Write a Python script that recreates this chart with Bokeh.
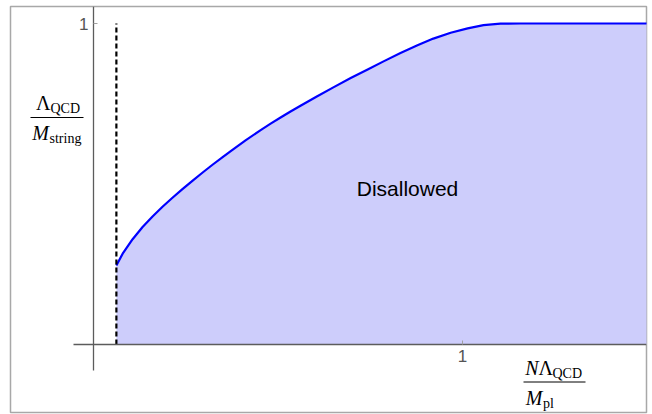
from bokeh.plotting import figure
from bokeh.models import FixedTicker, Range1d
from bokeh.core.properties import value
from bokeh.embed import file_html
from bokeh.resources import INLINE

# ---- data ----
boundary_x = [0.062]            # dashed vertical boundary
curve_x = [0.062, 0.079, 0.106, 0.133, 0.160, 0.187, 0.214, 0.241, 0.268, 0.295,
           0.3225, 0.350, 0.371, 0.412, 0.453, 0.480, 0.507, 0.534, 0.561, 0.604,
           0.650, 0.697, 0.743, 0.786, 0.832, 0.878, 0.921, 0.968, 1.014, 1.057,
           1.103, 1.157, 1.500]
curve_y = [0.246, 0.283, 0.328, 0.366, 0.399, 0.429, 0.457, 0.484, 0.510, 0.535,
           0.560, 0.584, 0.602, 0.636, 0.668, 0.688, 0.707, 0.726, 0.744, 0.772,
           0.801, 0.830, 0.857, 0.882, 0.908, 0.932, 0.953, 0.971, 0.985, 0.995,
           0.9995, 1.000, 1.000]
x_ticks = [1]
y_ticks = [1]
region_label = "Disallowed"

# ---- layout helpers (page pixels -> data) ----
X0, XS = 93.0, 369.0     # page x of origin, px per unit
Y0, YS = 344.0, 321.0    # page y of origin, px per unit
def dx(px):
    return (px - X0) / XS
def dy(py):
    return (Y0 - py) / YS
def base(py, size):
    # alphabetic baseline correction for text glyphs
    return dy(py - 0.38 * size)

p = figure(width=648, height=414, output_backend="svg", toolbar_location=None,
           min_border_left=10, min_border_right=2, min_border_top=6, min_border_bottom=2,
           x_range=Range1d(dx(10), dx(646)), y_range=Range1d(dy(412), dy(6)))
p.grid.visible = False
p.outline_line_color = "#a8a8a8"
p.outline_line_width = 1.5
p.background_fill_color = "white"
p.border_fill_color = "white"

# filled region and curve
p.varea(x=curve_x, y1=[0] * len(curve_x), y2=curve_y, fill_color="#cdcdfb")
p.line(curve_x, curve_y, line_color="#0000ff", line_width=2.2, line_join="round")
p.segment(x0=boundary_x, y0=[0], x1=boundary_x, y1=[1], line_color="black",
          line_width=2.2, line_dash="5 3")

# axes crossing at the origin
for ax, b, ticks in ((p.xaxis, (dx(73), dx(646)), x_ticks), (p.yaxis, (dy(370), dy(6)), y_ticks)):
    ax.fixed_location = 0
    ax.bounds = b
    ax.ticker = FixedTicker(ticks=ticks)
    ax.axis_line_color = "#5c5c5c"
    ax.axis_line_width = 1.3
    ax.major_tick_in = 4
    ax.major_tick_out = 0
    ax.major_tick_line_color = "#a0a0a0"
    ax.minor_tick_line_color = None
    ax.major_label_text_font = "Liberation Sans"
    ax.major_label_text_font_size = "17px"
    ax.major_label_text_color = "#555555"
p.xaxis.major_label_standoff = 5
p.yaxis.major_label_standoff = 5

serif = value("Liberation Serif")
sans = value("Liberation Sans")
BIG, SUB = 20, 14

def txt(px, py, s, size, align="left", style="normal", font=serif):
    p.text(x=[dx(px)], y=[base(py, size)], text=[s], text_font=font,
           text_font_size=f"{size}px", text_font_style=style, text_align=align,
           text_baseline="alphabetic", text_color="black")

# y-axis label: Λ_QCD / M_string
txt(50, 110, "Λ", BIG, align="right")
txt(50, 113, "QCD", SUB)
p.segment(x0=[dx(30)], y0=[dy(117)], x1=[dx(83)], y1=[dy(117)], line_color="black", line_width=1)
txt(48.5, 140, "M", BIG, align="right", style="italic")
txt(49, 143, "string", SUB)

# x-axis label: N Λ_QCD / M_pl
txt(538, 375, "N", BIG, align="right", style="italic")
txt(538, 375, "Λ", BIG)
txt(552, 378, "QCD", SUB)
p.segment(x0=[dx(523)], y0=[dy(381.5)], x1=[dx(585)], y1=[dy(381.5)], line_color="black", line_width=1)
txt(542, 405, "M", BIG, align="right", style="italic")
txt(542.5, 408, "pl", SUB)

# region label
txt(407, 195.5, region_label, 21, align="center", font=sans)

open("out.html", "w").write(file_html(p, INLINE))
